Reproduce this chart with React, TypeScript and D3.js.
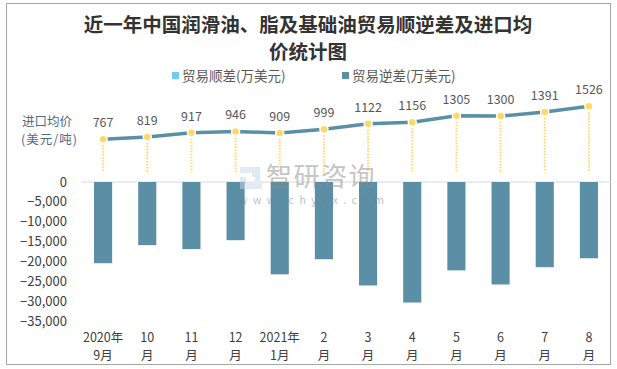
import React, { useEffect, useRef } from 'react';
import * as d3 from 'd3';

const months = ['2020年|9月', '10|月', '11|月', '12|月', '2021年|1月', '2|月', '3|月', '4|月', '5|月', '6|月', '7|月', '8|月'];
const deficit = [-20450, -15900, -16900, -14650, -23250, -19450, -26050, -30350, -22250, -25800, -21450, -19200];
const surplus = [0, 0, 0, 0, 0, 0, 0, 0, 0, 0, 0, 0];
const price = [767, 819, 917, 946, 909, 999, 1122, 1156, 1305, 1300, 1391, 1526];
const yTicks = [0, -5000, -10000, -15000, -20000, -25000, -30000, -35000];

const W = 617;
const H = 369;
const FONT = '"Noto Sans CJK SC", "Noto Sans", sans-serif';

const App = () => {
  const ref = useRef<SVGSVGElement>(null);

  useEffect(() => {
    const svg = d3.select(ref.current);
    svg.selectAll('*').remove();

    // рамка
    svg.append('rect')
      .attr('x', 6.5).attr('y', 3.5)
      .attr('width', 604).attr('height', 361)
      .attr('fill', '#fff').attr('stroke', '#a6a6a6');

    // заголовок
    const titleLines = ['近一年中国润滑油、脂及基础油贸易顺逆差及进口均', '价统计图'];
    svg.append('g').selectAll('text').data(titleLines).join('text')
      .attr('x', 308).attr('y', (d, i) => 32 + i * 27)
      .attr('text-anchor', 'middle')
      .attr('font-family', FONT)
      .attr('font-weight', 'bold')
      .attr('font-size', 19.5)
      .attr('fill', '#333')
      .text(d => d);

    // легенда
    const legend = [
      { label: '贸易顺差(万美元)', color: '#6dcdf3', x: 172 },
      { label: '贸易逆差(万美元)', color: '#5b8fa6', x: 342 },
    ];
    legend.forEach(l => {
      svg.append('rect').attr('x', l.x).attr('y', 72).attr('width', 7).attr('height', 7).attr('fill', l.color);
      svg.append('text').attr('x', l.x + 10).attr('y', 80.5)
        .attr('font-family', FONT).attr('font-size', 13.5).attr('fill', '#595959')
        .text(l.label);
    });

    const x = d3.scaleBand<string>().domain(months).range([81, 611]).paddingInner(0.59).paddingOuter(0.295);
    const y = d3.scaleLinear().domain([-35000, 0]).range([321, 182]);
    const yp = d3.scaleLinear().domain([0, 1600]).range([172.6, 103]);
    const cx = (m: string) => (x(m) as number) + x.bandwidth() / 2;

    // ось Y
    svg.append('g').selectAll('text').data(yTicks).join('text')
      .attr('x', 67).attr('y', d => y(d) + 4.5)
      .attr('text-anchor', 'end')
      .attr('font-family', FONT).attr('font-size', 13).attr('fill', '#404040')
      .text(d => d3.format(',')(d));

    // подпись оси цены
    svg.append('text').attr('x', 22).attr('y', 126)
      .attr('font-family', FONT).attr('font-size', 12.5).attr('fill', '#4e6b85').text('进口均价');
    svg.append('text').attr('x', 21).attr('y', 144)
      .attr('font-family', FONT).attr('font-size', 12.5).attr('letter-spacing', 1).attr('fill', '#4e6b85').text('(美元/吨)');

    // нулевая линия
    svg.append('line').attr('x1', 81).attr('x2', 611).attr('y1', y(0)).attr('y2', y(0))
      .attr('stroke', '#d9d9d9').attr('stroke-width', 1);

    // столбцы
    svg.append('g').selectAll('rect').data(months).join('rect')
      .attr('x', d => x(d) as number)
      .attr('width', x.bandwidth())
      .attr('y', y(0))
      .attr('height', (d, i) => y(deficit[i]) - y(0))
      .attr('fill', '#5b8fa6');
    svg.append('g').selectAll('rect').data(months).join('rect')
      .attr('x', d => x(d) as number)
      .attr('width', x.bandwidth())
      .attr('y', (d, i) => y(surplus[i]))
      .attr('height', (d, i) => y(0) - y(surplus[i]))
      .attr('fill', '#6dcdf3');

    // вертикальные пунктиры
    svg.append('g').selectAll('line').data(months).join('line')
      .attr('x1', cx).attr('x2', cx)
      .attr('y1', (d, i) => yp(price[i])).attr('y2', yp(0))
      .attr('stroke', '#ffd966').attr('stroke-width', 2).attr('stroke-dasharray', '1.5,1.5');

    // водяной знак
    const wm = svg.append('g').attr('opacity', 0.5);
    wm.append('path').attr('d', 'M240,167 h18 v10 h-12 v6 h16 v6 h-22 v-12 h12 v-4 h-12 z').attr('fill', '#c9d6e8');
    wm.append('rect').attr('x', 255).attr('y', 167).attr('width', 5).attr('height', 14).attr('fill', '#b5d8ee');
    wm.append('text').attr('x', 266).attr('y', 186)
      .attr('font-family', FONT).attr('font-size', 26).attr('fill', '#8c8c8c').attr('letter-spacing', 1.5).text('智研咨询');
    wm.append('text').attr('x', 239).attr('y', 204)
      .attr('font-family', FONT).attr('font-size', 10.5).attr('fill', '#7f7f7f').attr('letter-spacing', 5.5).text('www.chyxx.com');

    // линия цены
    const line = d3.line<number>().x((d, i) => cx(months[i])).y(d => yp(d));
    svg.append('path').datum(price).attr('d', line)
      .attr('fill', 'none').attr('stroke', '#5b8fa6').attr('stroke-width', 3.5);

    svg.append('g').selectAll('circle').data(price).join('circle')
      .attr('cx', (d, i) => cx(months[i])).attr('cy', d => yp(d)).attr('r', 4)
      .attr('fill', '#ffd966').attr('stroke', '#fff').attr('stroke-width', 1.5);

    svg.append('g').selectAll('text').data(price).join('text')
      .attr('x', (d, i) => cx(months[i])).attr('y', d => yp(d) - 12)
      .attr('text-anchor', 'middle')
      .attr('font-family', FONT).attr('font-size', 12.5).attr('fill', '#595959')
      .text(d => d);

    // подписи оси X
    const xl = svg.append('g').selectAll('text').data(months).join('text')
      .attr('text-anchor', 'middle')
      .attr('font-family', FONT).attr('font-size', 12.5).attr('fill', '#404040');
    xl.append('tspan').attr('x', cx).attr('y', 342).text(d => d.split('|')[0]);
    xl.append('tspan').attr('x', cx).attr('y', 360).text(d => d.split('|')[1]);
  }, []);

  return (
    <svg ref={ref} width={W} height={H} style={{ position: 'absolute', left: 0, top: 0, background: '#fff' }} />
  );
};

export default App;
